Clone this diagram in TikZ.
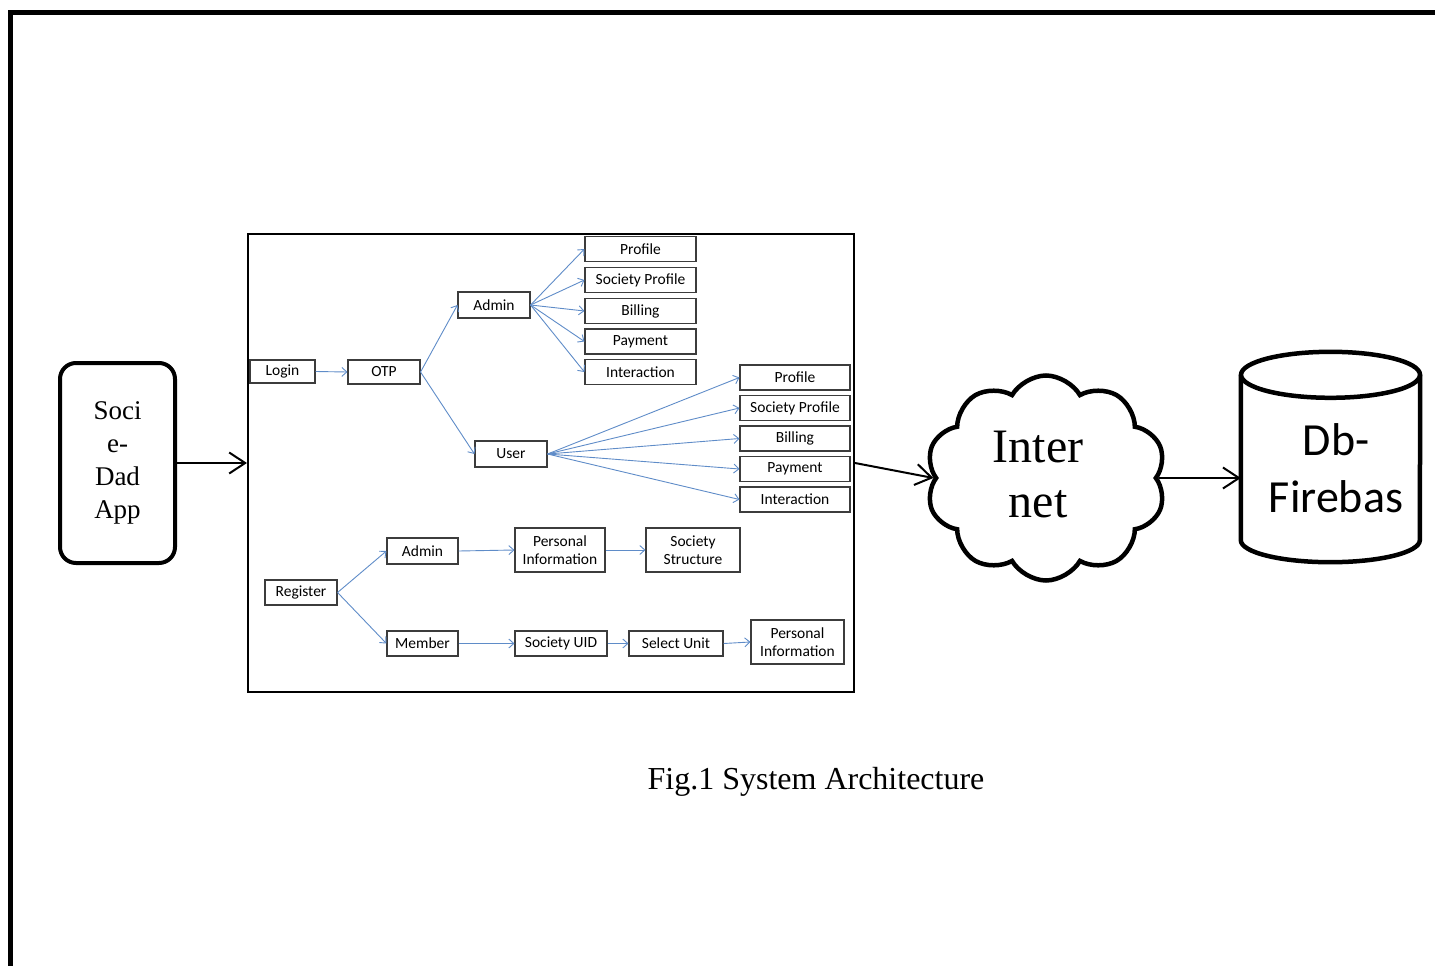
\documentclass[tikz,border=0pt]{standalone}
\usepackage{fontspec}
\setmainfont{Liberation Serif}
\newfontfamily\calfont{Carlito}
\usetikzlibrary{arrows.meta,shapes.symbols}
\definecolor{boxgray}{RGB}{60,60,60}
\definecolor{arrowblue}{RGB}{95,140,200}
\begin{document}
\begin{tikzpicture}[x=1pt,y=-1pt,
  bx/.style={draw=boxgray,line width=1.1pt,inner sep=0pt,align=center,
    font=\calfont\fontsize{15.5}{18.5}\selectfont},
  barrow/.style={draw=arrowblue,line width=0.9pt,-{Straight Barb[length=5pt,width=9pt]}},
  karrow/.style={draw=black,line width=2pt,-{Straight Barb[length=16pt,width=21pt]}},
  cyl/.style={draw=black,line width=4.5pt}]
\useasboundingbox (0,0) rectangle (1435,966);
% outer frame
\draw[line width=5pt] (10.5,966) -- (10.5,12.5) -- (1435,12.5);
% app
\node[draw,line width=4pt,rounded corners=16pt,minimum width=115pt,minimum height=200pt,
  inner sep=0pt,align=center,font=\fontsize{27}{33}\selectfont] (app) at (117.5,463) {Soci\\e-\\Dad\\App};
% main box
\node[draw,line width=2pt,minimum width=606pt,minimum height=458pt,inner sep=0pt] (main) at (551,463) {};
% login branch
\node[bx,minimum width=65pt,minimum height=23pt] (login) at (282.5,371.5) {Login};
\node[bx,minimum width=72pt,minimum height=24pt] (otp) at (384,372) {OTP};
\node[bx,minimum width=72pt,minimum height=26pt] (adm) at (494,305) {Admin};
\node[bx,minimum width=72pt,minimum height=26pt] (usr) at (511,454) {User};
\node[bx,minimum width=111pt,minimum height=25pt] (ap1) at (640.5,249) {Profile};
\node[bx,minimum width=111pt,minimum height=25pt] (ap2) at (640.5,280) {Society Profile};
\node[bx,minimum width=111pt,minimum height=25pt] (ap3) at (640.5,311) {Billing};
\node[bx,minimum width=111pt,minimum height=25pt] (ap4) at (640.5,341.5) {Payment};
\node[bx,minimum width=111pt,minimum height=25pt] (ap5) at (640.5,372) {Interaction};
\node[bx,minimum width=110pt,minimum height=25pt] (up1) at (795,377.5) {Profile};
\node[bx,minimum width=110pt,minimum height=25pt] (up2) at (795,408) {Society Profile};
\node[bx,minimum width=110pt,minimum height=25pt] (up3) at (795,438.5) {Billing};
\node[bx,minimum width=110pt,minimum height=25pt] (up4) at (795,469) {Payment};
\node[bx,minimum width=110pt,minimum height=25pt] (up5) at (795,499.5) {Interaction};
% register branch
\node[bx,minimum width=72pt,minimum height=25pt] (reg) at (301,592.5) {Register};
\node[bx,minimum width=71pt,minimum height=26pt] (adm2) at (422.5,551) {Admin};
\node[bx,minimum width=71pt,minimum height=25pt] (mem) at (422.5,643.5) {Member};
\node[bx,minimum width=90pt,minimum height=44pt] (pi1) at (560,550) {Personal\\Information};
\node[bx,minimum width=94pt,minimum height=44pt] (ss) at (693,550) {Society\\Structure};
\node[bx,minimum width=92pt,minimum height=25pt] (suid) at (561,643.5) {Society UID};
\node[bx,minimum width=94pt,minimum height=25pt] (sel) at (676,643.5) {Select Unit};
\node[bx,minimum width=93pt,minimum height=44pt] (pi2) at (797.5,642) {Personal\\Information};
% blue connectors
\draw[barrow] (login.east) -- (otp.west);
\draw[barrow] (otp.east) -- (adm.west);
\draw[barrow] (otp.east) -- (usr.west);
\foreach \t in {ap1,ap2,ap3,ap4,ap5} \draw[barrow] (adm.east) -- (\t.west);
\foreach \t in {up1,up2,up3,up4,up5} \draw[barrow] (usr.east) -- (\t.west);
\draw[barrow] (reg.east) -- (adm2.west);
\draw[barrow] (reg.east) -- (mem.west);
\draw[barrow] (adm2.east) -- (pi1.west);
\draw[barrow] (pi1.east) -- (ss.west);
\draw[barrow] (mem.east) -- (suid.west);
\draw[barrow] (suid.east) -- (sel.west);
\draw[barrow] (sel.east) -- (pi2.west);
% cloud
\node[cloud,draw,line width=4.5pt,cloud puffs=10,cloud puff arc=120,aspect=1.2,
  minimum width=240pt,minimum height=205pt,inner sep=0pt] (net) at (1046,478) {};
\node[align=center,inner sep=0pt,font=\fontsize{48}{55}\selectfont] (nett) at (1038,474.5) {Inter\\net};
% database cylinder
\node[minimum width=179pt,minimum height=210pt,inner sep=0pt] (db) at (1330.5,457) {};
\draw[cyl] ([yshift=-23pt]db.north west) -- ([yshift=22pt]db.south west)
  arc[start angle=180,end angle=360,x radius=89.5pt,y radius=22pt] -- ([yshift=-23pt]db.north east);
\draw[cyl] ([yshift=-23pt]db.north) ellipse [x radius=89.5pt,y radius=23pt];
\node[align=center,inner sep=0pt,font=\calfont\fontsize{46}{57}\selectfont] (dbt) at (1336,468.5) {Db-\\Firebas};
% black connectors
\draw[karrow] (app.east) -- (main.west);
\draw[karrow] (main.east) -- (net.west);
\draw[karrow] (net.east) -- (net.east -| db.west);
% caption
\node[font=\fontsize{32}{38}\selectfont,inner sep=0pt] (cap) at (816,782) {Fig.1 System Architecture};
\end{tikzpicture}
\end{document}
